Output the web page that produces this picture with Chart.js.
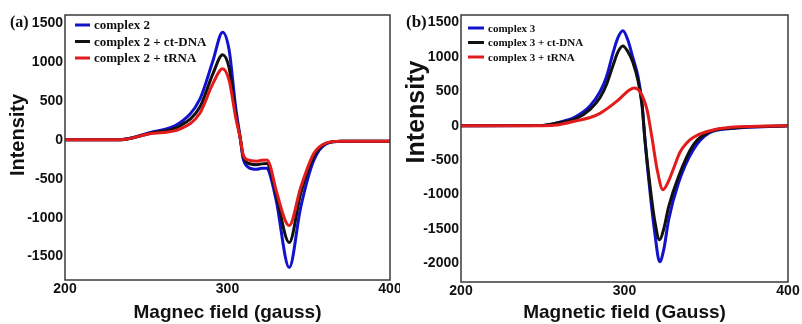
<!DOCTYPE html>
<html>
<head>
<meta charset="utf-8">
<script src="https://cdn.jsdelivr.net/npm/chart.js@4"></script>
<style>
    html, body { margin: 0; padding: 0; background: #fff; }
    .wrap { position: relative; width: 802px; height: 324px; }
    .panel { position: absolute; top: 0; }
</style>
</head>
<body>
<div class="wrap">
    <div class="panel" style="left:0"><canvas id="epr2" width="400" height="324"></canvas></div>
    <div class="panel" style="left:400px"><canvas id="epr3" width="402" height="324"></canvas></div>
</div>
<script>
// Campo magnético (G) y señales EPR del complejo 2
const fieldA = [200, 234, 252, 271, 283, 291, 297, 301, 305, 308, 309.5, 312.6, 318, 321, 324.3, 326.2, 330, 338, 345, 353, 361, 370, 400];
const complex2 = [0, 0, 90, 220, 520, 1010, 1380, 1150, 420, 0, -230, -350, -380, -365, -365, -450, -782, -1640, -872, -270, -50, -20, -20];
const complex2DNA = [0, 0, 80, 180, 420, 845, 1090, 920, 340, 0, -200, -300, -320, -310, -305, -380, -700, -1320, -692, -220, -45, -20, -20];
const complex2RNA = [0, 0, 77, 140, 340, 720, 910, 760, 290, 0, -180, -260, -275, -265, -260, -330, -654, -1100, -615, -180, -40, -20, -20];

// Campo magnético (G) y señales EPR del complejo 3
const fieldB = [200, 250, 260, 270, 279, 285, 289, 293, 296, 299, 302, 305, 308.3, 310.7, 312.5, 316, 318.5, 321.5, 324, 327, 333, 342, 352, 365, 400];
const complex3 = [0, 5, 50, 130, 290, 494, 712, 1060, 1280, 1380, 1250, 1000, 712, 334, -200, -1050, -1550, -1977, -1800, -1366, -830, -350, -100, -40, 0];
const complex3DNA = [0, 5, 45, 100, 240, 407, 600, 880, 1075, 1160, 1080, 930, 650, 300, -200, -950, -1380, -1657, -1500, -1177, -740, -280, -90, -35, 0];
const fieldBRNA = [200, 250, 260, 270, 279, 285, 295, 303, 306, 309.5, 313.8, 315.6, 317, 320, 323.5, 327, 330, 334, 338, 342, 350, 365, 400];
const complex3RNA = [0, 0, 15, 70, 120, 180, 350, 520, 550, 494, 232, 0, -200, -640, -930, -800, -620, -380, -250, -170, -87, -20, 0];

// Marcas de los ejes
const xTicks = [200, 300, 400];
const yTicksA = [-1500, -1000, -500, 0, 500, 1000, 1500];
const yTicksB = [-2000, -1500, -1000, -500, 0, 500, 1000, 1500];

const BLUE = 'rgb(18, 18, 205)';
const BLACK = '#111111';
const RED = 'rgb(226, 28, 28)';

// Marco, letra del panel, título vertical y leyenda dibujados a mano
const panelDecor = {
    id: 'panelDecor',
    afterDatasetsDraw(chart, args, opts) {
        const { ctx, chartArea: a } = chart;
        ctx.save();
        ctx.strokeStyle = '#3a3a3a';
        ctx.lineWidth = 1.5;
        ctx.strokeRect(a.left, a.top, a.right - a.left, a.bottom - a.top);

        ctx.fillStyle = '#111';
        ctx.textBaseline = 'middle';
        ctx.textAlign = 'left';
        ctx.font = opts.letterFont;
        ctx.fillText(opts.letter, opts.letterX, opts.letterY);

        ctx.save();
        ctx.translate(opts.yTitleX, opts.yTitleY);
        ctx.rotate(-Math.PI / 2);
        ctx.textAlign = 'center';
        ctx.font = opts.yTitleFont;
        ctx.fillText(opts.yTitle, 0, 0);
        ctx.restore();

        const lg = opts.legend;
        ctx.font = lg.font;
        chart.data.datasets.forEach((ds, i) => {
            const y = lg.y + i * lg.rowH;
            ctx.strokeStyle = ds.borderColor;
            ctx.lineWidth = 3;
            ctx.beginPath();
            ctx.moveTo(lg.x, y);
            ctx.lineTo(lg.x + lg.lineLen, y);
            ctx.stroke();
            ctx.fillText(ds.label, lg.x + lg.lineLen + lg.gap, y + 1);
        });
        ctx.restore();
    }
};

function series(label, xs, ys, color, order) {
    return {
        label: label,
        data: xs.map((x, i) => ({ x: x, y: ys[i] })),
        borderColor: color,
        borderWidth: 3,
        pointRadius: 0,
        fill: false,
        cubicInterpolationMode: 'monotone',
        order: order
    };
}

const tickFont = { family: 'Liberation Sans, Arial, sans-serif', size: 14, weight: 'bold' };

function makePanel(canvasId, cfg) {
    return new Chart(document.getElementById(canvasId), {
        type: 'line',
        data: { datasets: cfg.datasets },
        options: {
            responsive: false,
            animation: false,
            layout: { padding: { left: 0, right: cfg.padRight, top: 15, bottom: 0 } },
            plugins: {
                legend: { display: false },
                tooltip: { enabled: false },
                panelDecor: cfg.decor
            },
            scales: {
                x: {
                    type: 'linear',
                    min: 200,
                    max: 400,
                    afterBuildTicks: s => { s.ticks = xTicks.map(v => ({ value: v })); },
                    afterFit: s => { s.height = cfg.xHeight; s.paddingLeft = 0; s.paddingRight = 0; },
                    grid: { display: false, drawTicks: false },
                    border: { display: false },
                    ticks: { font: tickFont, color: '#111', padding: 1, maxRotation: 0, callback: v => String(v) },
                    title: {
                        display: true,
                        text: cfg.xTitle,
                        color: '#111',
                        font: { family: 'Liberation Sans, Arial, sans-serif', size: 19, weight: 'bold' },
                        padding: { top: 0, bottom: 0 }
                    }
                },
                y: {
                    type: 'linear',
                    min: cfg.yMin,
                    max: cfg.yMax,
                    afterBuildTicks: s => { s.ticks = cfg.yTicks.map(v => ({ value: v })); },
                    afterFit: s => { s.width = cfg.yWidth; },
                    grid: { display: false, drawTicks: false },
                    border: { display: false },
                    ticks: { font: tickFont, color: '#111', padding: 2, callback: v => String(v) }
                }
            }
        },
        plugins: [panelDecor]
    });
}

document.addEventListener('DOMContentLoaded', function () {
    // (a) complejo 2
    makePanel('epr2', {
        datasets: [
            series('complex 2', fieldA, complex2, BLUE, 3),
            series('complex 2 + ct-DNA', fieldA, complex2DNA, BLACK, 2),
            series('complex 2 + tRNA', fieldA, complex2RNA, RED, 1)
        ],
        yMin: -1800, yMax: 1600, yTicks: yTicksA,
        yWidth: 65, xHeight: 44, padRight: 10,
        xTitle: 'Magnec field (gauss)',
        decor: {
            letter: '(a)', letterX: 10, letterY: 23,
            letterFont: 'bold 16px "Liberation Serif", "Times New Roman", serif',
            yTitle: 'Intensity', yTitleX: 18, yTitleY: 135,
            yTitleFont: 'bold 20px "Liberation Sans", Arial, sans-serif',
            legend: { x: 75, y: 25, rowH: 16.5, lineLen: 15, gap: 4,
                font: 'bold 13px "Liberation Serif", "Times New Roman", serif' }
        }
    });

    // (b) complejo 3
    makePanel('epr3', {
        datasets: [
            series('complex 3', fieldB, complex3, BLUE, 3),
            series('complex 3 + ct-DNA', fieldB, complex3DNA, BLACK, 2),
            series('complex 3 + tRNA', fieldBRNA, complex3RNA, RED, 1)
        ],
        yMin: -2270, yMax: 1610, yTicks: yTicksB,
        yWidth: 61, xHeight: 42, padRight: 14,
        xTitle: 'Magnetic field (Gauss)',
        decor: {
            letter: '(b)', letterX: 6, letterY: 23,
            letterFont: 'bold 17px "Liberation Serif", "Times New Roman", serif',
            yTitle: 'Intensity', yTitleX: 17, yTitleY: 112,
            yTitleFont: 'bold 25px "Liberation Sans", Arial, sans-serif',
            legend: { x: 68, y: 28, rowH: 14.5, lineLen: 16, gap: 4,
                font: 'bold 11px "Liberation Serif", "Times New Roman", serif' }
        }
    });
});
</script>
</body>
</html>
